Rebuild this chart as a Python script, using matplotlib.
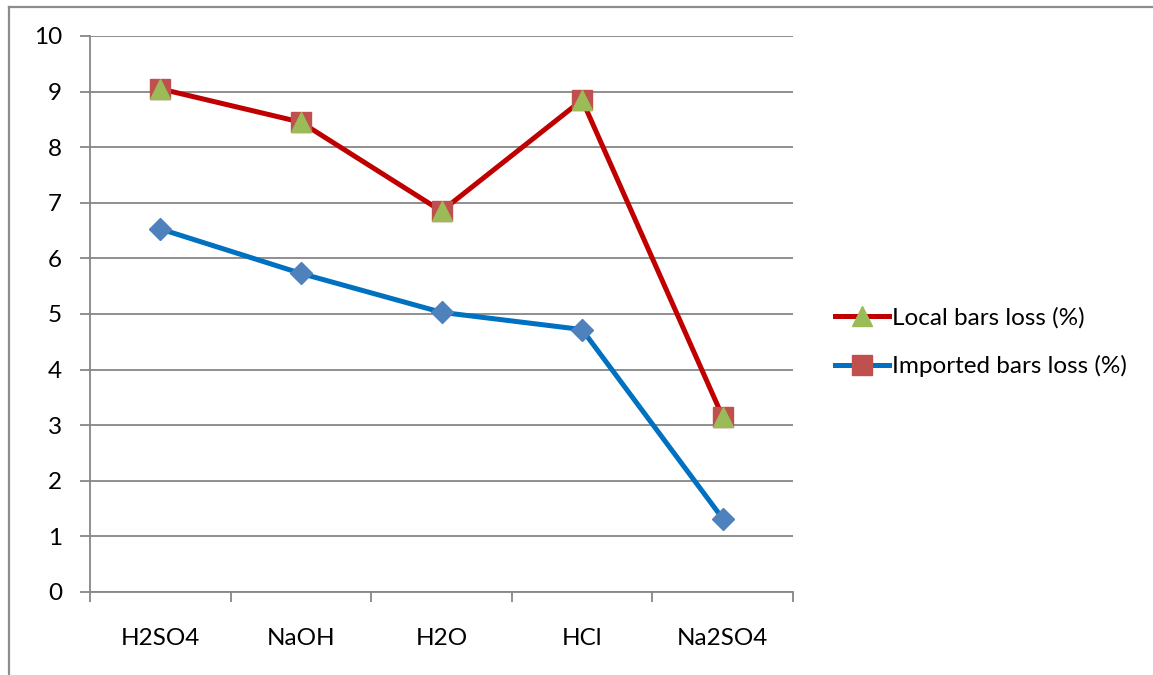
import matplotlib
matplotlib.use("Agg")
import matplotlib.pyplot as plt
from matplotlib.lines import Line2D

categories = ["H2SO4", "NaOH", "H2O", "HCl", "Na2SO4"]
local_loss = [9.05, 8.45, 6.85, 8.85, 3.15]
imported_loss = [6.53, 5.73, 5.03, 4.72, 1.32]
y_ticks = [0, 1, 2, 3, 4, 5, 6, 7, 8, 9, 10]
legend_labels = ["Local bars loss (%)", "Imported bars loss (%)"]

plt.rcParams["font.family"] = ["Lato", "DejaVu Sans"]

RED_LINE = "#C00000"
RED_MARK = "#C0504D"
GREEN_MARK = "#9BBB59"
BLUE_LINE = "#0070C0"
BLUE_MARK = "#4F81BD"
GRID = "#868686"
FS = 17.5

fig = plt.figure(figsize=(11.53, 6.75), dpi=100)
ax = fig.add_axes([90 / 1153, 83 / 675, 703 / 1153, 556 / 675])

x = list(range(len(categories)))

ax.plot(x, imported_loss, color=BLUE_LINE, lw=3.6, marker="D", ms=11,
        markerfacecolor=BLUE_MARK, markeredgecolor=BLUE_MARK, zorder=3)
ax.plot(x, local_loss, color=RED_LINE, lw=3.6, zorder=3)
ax.plot(x, local_loss, ls="none", marker="s", ms=14,
        markerfacecolor=RED_MARK, markeredgecolor=RED_MARK, zorder=4)
ax.plot(x, local_loss, ls="none", marker="^", ms=15,
        markerfacecolor=GREEN_MARK, markeredgecolor=GREEN_MARK, zorder=5)

ax.set_xlim(-0.5, len(categories) - 0.5)
ax.set_ylim(0, 10)
ax.set_yticks(y_ticks)
ax.yaxis.grid(True, color=GRID, lw=1.3)
ax.set_axisbelow(True)

# category labels centred, tick marks between categories
ax.set_xticks(x)
ax.set_xticklabels(categories)
ax.set_xticks([i - 0.5 for i in range(len(categories) + 1)], minor=True)
ax.tick_params(axis="x", which="major", length=0, pad=26, labelsize=FS)
ax.tick_params(axis="x", which="minor", length=7, width=1.3, color=GRID,
               direction="out")
ax.tick_params(axis="y", length=7, width=1.3, color=GRID, pad=13,
               labelsize=FS)

for side in ["top", "right"]:
    ax.spines[side].set_visible(False)
for side in ["left", "bottom"]:
    ax.spines[side].set_color(GRID)
    ax.spines[side].set_linewidth(1.3)

handles = [
    Line2D([], [], color=RED_LINE, lw=3.6, marker="^", ms=15,
           markerfacecolor=GREEN_MARK, markeredgecolor=GREEN_MARK),
    Line2D([], [], color=BLUE_LINE, lw=3.6, marker="s", ms=14,
           markerfacecolor=RED_MARK, markeredgecolor=RED_MARK),
]
fig.legend(handles, legend_labels, loc="center left",
           bbox_to_anchor=(823 / 1153, 1 - 342 / 675), frameon=False,
           fontsize=FS, handlelength=2.2, handletextpad=0.15,
           labelspacing=1.1, borderpad=0)

# outer chart border (top and left edges)
fig.add_artist(Line2D([9 / 1153, 1.0], [1 - 7 / 675, 1 - 7 / 675],
                      transform=fig.transFigure, color="#8C8C8C", lw=1.6))
fig.add_artist(Line2D([9 / 1153, 9 / 1153], [0.0, 1 - 7 / 675],
                      transform=fig.transFigure, color="#8C8C8C", lw=1.6))

fig.savefig("out.png", dpi=100)
